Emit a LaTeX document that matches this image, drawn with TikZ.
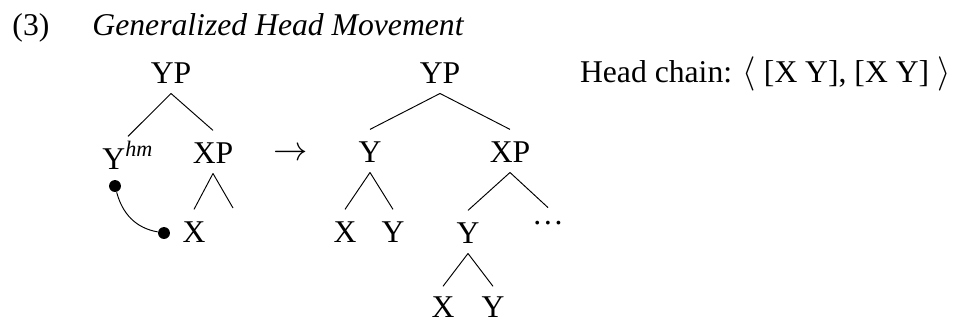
\documentclass[tikz,border=0pt]{standalone}
\usepackage{fontspec}
\setmainfont{Liberation Serif}
\usetikzlibrary{calc}

\begin{document}
\begin{tikzpicture}[x=0.42pt,y=-0.42pt,font=\fontsize{13.3}{15}\selectfont,
	cat/.style={anchor=base,inner xsep=1pt,inner ysep=4.2pt,text height=9.3pt,text depth=0pt},
	plain/.style={anchor=base west,inner sep=0pt},
	hmdot/.style={circle,fill=black,inner sep=0pt,minimum size=5pt}]
	% keep the margins of the page
	\useasboundingbox (0,0) rectangle (956,321);
	
	% example number and title
	\node[plain] (num) at (12,35) {(3)};
	\node[plain] (title) at (92,35) {\textit{Generalized Head Movement}};
	
	% tree before movement
	\node[cat] (yp1) at (171,83) {YP};
	\node[cat] (yhm) at (128,169) {Y\textsuperscript{\textit{hm}}};
	\node[cat] (xp1) at (213,163) {XP};
	\node[cat] (x1) at (194,242) {X};
	\coordinate (xpr) at (233,208);
	\draw (yp1.south) -- (yhm.north);
	\draw (yp1.south) -- (xp1.north);
	\draw (xp1.south) -- (x1.north);
	\draw (xp1.south) -- (xpr);
	
	% the head movement link
	\node[hmdot] (t1) at (115,186) {};
	\node[hmdot] (t2) at (164,233) {};
	\draw (t1) to[out=-75,in=170] (t2);
	
	% arrow between the trees
	\node[anchor=base,inner sep=0pt] (arr) at (291,160) {$\rightarrow$};
	
	% tree after movement
	\node[cat] (yp2) at (440,83) {YP};
	\node[cat] (y2) at (370,162) {Y};
	\node[cat] (xp2) at (510,162) {XP};
	\node[cat] (x2) at (345,242) {X};
	\node[cat] (y3) at (393,242) {Y};
	\node[cat] (y4) at (468,243) {Y};
	\node[cat,text height=2.5pt] (dots) at (548,224) {\ldots};
	\node[cat,text height=8.5pt] (x3) at (443,317) {X};
	\node[cat,text height=8.5pt] (y5) at (493,317) {Y};
	\draw (yp2.south) -- (y2.north);
	\draw (yp2.south) -- (xp2.north);
	\draw (y2.south) -- (x2.north);
	\draw (y2.south) -- (y3.north);
	\draw (xp2.south) -- (y4.north);
	\draw (xp2.south) -- (dots.north);
	\draw (y4.south) -- (x3.north);
	\draw (y4.south) -- (y5.north);
	
	% the chain
	\node[anchor=base east,inner sep=0pt] (chain) at (951,82) {Head chain: $\langle$ [X Y], [X Y] $\rangle$};
\end{tikzpicture}
\end{document}
